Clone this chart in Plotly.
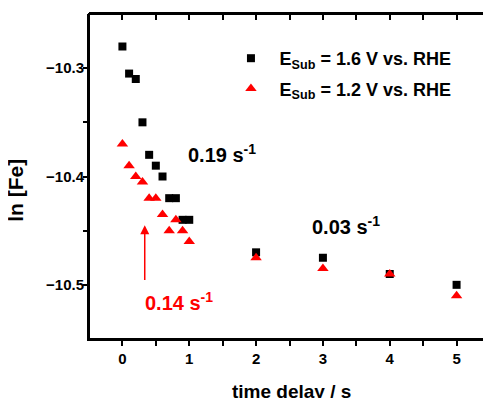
import plotly.graph_objects as go

# ---- data ----
t_16 = [0, 0.1, 0.2, 0.3, 0.4, 0.5, 0.6, 0.7, 0.8, 0.9, 1.0, 2, 3, 4, 5]
ln_fe_16 = [-10.28, -10.305, -10.31, -10.35, -10.38, -10.39, -10.40, -10.42, -10.42,
            -10.44, -10.44, -10.47, -10.475, -10.49, -10.50]
t_12 = [0, 0.1, 0.2, 0.3, 0.4, 0.5, 0.6, 0.7, 0.8, 0.9, 1.0, 2, 3, 4, 5]
ln_fe_12 = [-10.37, -10.39, -10.40, -10.405, -10.42, -10.42, -10.435, -10.45, -10.44,
            -10.45, -10.46, -10.475, -10.485, -10.49, -10.51]
name_16 = "E<sub>Sub</sub> = 1.6 V vs. RHE"
name_12 = "E<sub>Sub</sub> = 1.2 V vs. RHE"
x_range = [-0.5, 5.5]
y_range = [-10.55, -10.25]
x_ticks_all = [0, 0.5, 1, 1.5, 2, 2.5, 3, 3.5, 4, 4.5, 5]
x_ticktext = ["0", "", "1", "", "2", "", "3", "", "4", "", "5"]
y_ticks_all = [-10.3, -10.35, -10.4, -10.45, -10.5]
y_ticktext = ["\u221210.3", "", "\u221210.4", "", "\u221210.5"]
rate_labels = ["0.19 s<sup>-1</sup>", "0.03 s<sup>-1</sup>", "0.14 s<sup>-1</sup>"]
rate_x = [1.49, 3.34, 0.84]
rate_y = [-10.379, -10.445, -10.515]
rate_colors = ["black", "black", "red"]
arrow_x = 0.334
arrow_y0 = -10.497
arrow_y1 = -10.445

FONT = "Arial, Liberation Sans, sans-serif"
PAD = "\u00a0\u2009"

fig = go.Figure()
fig.add_trace(go.Scatter(x=t_16, y=ln_fe_16, mode="markers", name=PAD + name_16,
                         legendgroup="a",
                         marker=dict(symbol="square", size=8, color="black")))
fig.add_trace(go.Scatter(x=t_12, y=ln_fe_12, mode="markers", name=PAD + name_12,
                         legendgroup="b",
                         marker=dict(symbol="triangle-up", size=10, color="red")))
# transparent copies so that the frame axes (top/right/left ticks) get drawn
for ya in ["y2", "y3"]:
    fig.add_trace(go.Scatter(x=t_16, y=ln_fe_16, xaxis="x2", yaxis=ya, mode="markers",
                             showlegend=False, hoverinfo="skip",
                             marker=dict(opacity=0, size=1)))

frame = dict(showgrid=False, zeroline=False, tickwidth=2, tickcolor="black",
             linewidth=2, linecolor="black")

fig.update_layout(
    width=483, height=390,
    margin=dict(l=81, r=1, t=6, b=59),
    plot_bgcolor="rgba(0,0,0,0)", paper_bgcolor="white",
    font=dict(family=FONT, size=15, color="black"),
    xaxis=dict(range=x_range, domain=[0, 1], anchor="y", tickmode="array",
               tickvals=x_ticks_all, ticktext=x_ticktext, ticks="outside", ticklen=5,
               showline=True, tickfont=dict(family=FONT, size=15, weight="bold"), **frame),
    yaxis=dict(range=y_range, domain=[0, 1], anchor="x", tickmode="array",
               tickvals=y_ticks_all, ticktext=y_ticktext, ticks="", showline=True,
               tickfont=dict(family=FONT, size=15, weight="bold"), **frame),
    xaxis2=dict(range=x_range, domain=[0, 1], anchor="y2", side="top",
                tickvals=x_ticks_all, ticks="inside", ticklen=6, showticklabels=False,
                showline=True, **frame),
    yaxis2=dict(range=y_range, domain=[0, 1], anchor="x2", side="right",
                tickvals=y_ticks_all, ticks="inside", ticklen=5, showticklabels=False,
                showline=True, **frame),
    yaxis3=dict(range=y_range, domain=[0, 1], anchor="x2", side="left",
                tickvals=y_ticks_all, ticks="outside", ticklen=5, showticklabels=False,
                showline=False, **frame),
    legend=dict(x=0.354, y=0.92, xanchor="left", yanchor="top",
                bgcolor="rgba(0,0,0,0)", traceorder="grouped", tracegroupgap=4,
                font=dict(family=FONT, size=18, weight="bold", color="black"),
                itemwidth=30),
    showlegend=True,
)

# plot frame (box around the plotting area)
fig.add_shape(type="rect", xref="x domain", yref="y domain", x0=0, x1=1, y0=0, y1=1,
              line=dict(color="black", width=2), layer="above")

for txt, xx, yy, col in zip(rate_labels, rate_x, rate_y, rate_colors):
    fig.add_annotation(x=xx, y=yy, xref="x", yref="y", text=txt, showarrow=False,
                       font=dict(family=FONT, size=20, weight="bold", color=col))

fig.add_annotation(x=arrow_x, y=arrow_y1, ax=arrow_x, ay=arrow_y0, xref="x", yref="y",
                   axref="x", ayref="y", text="", showarrow=True, arrowhead=2,
                   arrowsize=1.2, arrowwidth=1.5, arrowcolor="red")

fig.add_annotation(x=0.504, y=-0.163, xref="paper", yref="paper", text="time delay / s",
                   showarrow=False, xanchor="center", yanchor="middle",
                   font=dict(family=FONT, size=19, weight="bold"))
fig.add_annotation(x=-0.183, y=0.458, xref="paper", yref="paper", text="ln [Fe]",
                   showarrow=False, textangle=-90, xanchor="center", yanchor="middle",
                   font=dict(family=FONT, size=21, weight="bold"))

fig.write_html("out.html")
